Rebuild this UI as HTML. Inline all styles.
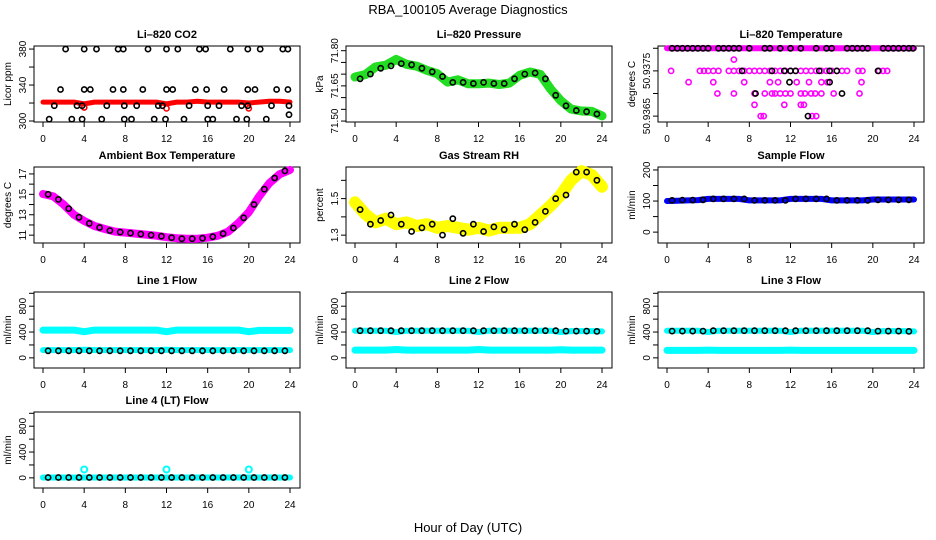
<!DOCTYPE html>
<html><head><meta charset="utf-8"><style>
html,body{margin:0;padding:0;background:#fff;}
svg{display:block;font-family:"Liberation Sans",Arial,sans-serif;}
</style></head><body>
<svg id="chart" width="936" height="540" viewBox="0 0 936 540" xmlns="http://www.w3.org/2000/svg">
<text x="468" y="14" text-anchor="middle" font-size="13">RBA_100105  Average Diagnostics</text>
<text x="468" y="532" text-anchor="middle" font-size="13">Hour of Day (UTC)</text>
</svg>
<script>
// ---- data ----
const hours = [0,1,2,3,4,5,6,7,8,9,10,11,12,13,14,15,16,17,18,19,20,21,22,23,24];
const halfHours = [0.5,1.5,2.5,3.5,4.5,5.5,6.5,7.5,8.5,9.5,10.5,11.5,12.5,13.5,14.5,15.5,16.5,17.5,18.5,19.5,20.5,21.5,22.5,23.5];
const xTicks = [0,4,8,12,16,20,24];

const co2Red = [321,321,321,321,319,321,321,321,321,321,321,321,319,321,321,322,321,321,321,321,320,321,322,322,321];
const co2BlackHours = [2.2,4.0,5.2,7.3,7.8,10.2,12.0,13.1,15.2,15.8,18.2,19.9,21.1,23.3,23.8,
 1.7,4.0,4.6,6.8,7.8,9.7,12.0,12.6,14.8,15.9,17.6,19.9,20.6,22.7,23.8,
 1.1,3.3,3.8,6.2,7.9,9.1,11.2,11.6,14.2,16.0,17.1,19.3,19.9,22.2,23.9,
 0.6,2.8,3.8,5.7,7.9,8.6,10.8,11.9,13.7,16.0,16.5,18.8,19.8,21.7,23.9];
const co2BlackValues = [380,380,380,380,380,380,380,380,380,380,380,380,380,380,380,
 335,335,335,335,335,335,335,335,335,335,335,335,335,335,335,
 317,317,317,317,317,317,317,317,317,317,317,317,317,317,317,
 302,302,302,302,302,302,302,302,302,302,302,302,302,302,307];

const pressGreen = [71.688,71.698,71.731,71.738,71.763,71.742,71.734,71.716,71.702,71.666,71.676,71.659,71.659,71.662,71.656,71.662,71.695,71.709,71.699,71.637,71.587,71.551,71.543,71.541,71.522];
const pressBlack = [71.680,71.700,71.725,71.735,71.745,71.740,71.725,71.710,71.690,71.665,71.665,71.660,71.665,71.660,71.660,71.680,71.700,71.705,71.680,71.610,71.565,71.545,71.540,71.530];

const tempMagentaTop = [50.938,50.938,50.938,50.938,50.938,50.938,50.938,50.938,50.938,50.938,50.938,50.938,50.938,50.938,50.938,50.938,50.938,50.938,50.938,50.938,50.938,50.938,50.938,50.938,50.938];
const tempMagentaHours = [0.4,3.2,3.6,4.0,4.5,5.0,6.0,6.5,7.0,7.5,8.0,8.5,9.0,9.5,10.0,10.5,11.0,11.5,12.0,12.5,13.0,13.5,14.0,14.5,15.0,15.5,16.0,16.5,17.0,17.5,18.6,19.0,20.6,21.0,21.4,
 6.5,
 2.1,4.5,7.5,10.0,10.8,12.6,13.8,15.0,15.6,18.9,
 4.9,6.5,8.5,9.5,10.2,10.5,11.0,11.5,12.0,13.0,13.4,14.0,14.4,15.0,16.2,18.7,
 8.5,11.4,13.0,13.3,
 9.1,9.4,14.1,14.5];
const tempMagentaValues = [50.9375,50.9375,50.9375,50.9375,50.9375,50.9375,50.9375,50.9375,50.9375,50.9375,50.9375,50.9375,50.9375,50.9375,50.9375,50.9375,50.9375,50.9375,50.9375,50.9375,50.9375,50.9375,50.9375,50.9375,50.9375,50.9375,50.9375,50.9375,50.9375,50.9375,50.9375,50.9375,50.9375,50.9375,50.9375,
 50.93775,
 50.93725,50.93725,50.93725,50.93725,50.93725,50.93725,50.93725,50.93725,50.93725,50.93725,
 50.937,50.937,50.937,50.937,50.937,50.937,50.937,50.937,50.937,50.937,50.937,50.937,50.937,50.937,50.937,50.937,
 50.93675,50.93675,50.93675,50.93675,
 50.9365,50.9365,50.9365,50.9365];
const tempBlackHours = [0.5,1.0,1.5,2.0,2.5,3.0,3.5,4.0,5.0,5.5,6.0,6.5,7.0,8.0,9.5,10.0,11.0,12.0,13.0,14.5,15.5,16.0,17.5,18.0,18.5,19.0,19.5,21.0,21.5,22.0,22.5,23.0,23.5,23.9,
 7.3,10.2,11.4,12.0,12.5,14.8,15.8,16.5,20.5, 11.9,15.8, 8.6,17.0, 13.7];
const tempBlackValues = [50.938,50.938,50.938,50.938,50.938,50.938,50.938,50.938,50.938,50.938,50.938,50.938,50.938,50.938,50.938,50.938,50.938,50.938,50.938,50.938,50.938,50.938,50.938,50.938,50.938,50.938,50.938,50.938,50.938,50.938,50.938,50.938,50.938,50.938,
 50.9375,50.9375,50.9375,50.9375,50.9375,50.9375,50.9375,50.9375,50.9375, 50.93725,50.93725, 50.937,50.937, 50.9365];

const ambMagenta = [15.03,14.8,14.0,13.0,12.4,11.9,11.6,11.35,11.25,11.15,11.05,10.95,10.8,10.7,10.65,10.65,10.75,10.95,11.35,12.2,13.25,14.8,16.1,16.97,17.4];
const ambBlack = [15.0,14.5,13.6,12.75,12.15,11.75,11.45,11.3,11.2,11.1,11.0,10.9,10.75,10.65,10.65,10.7,10.85,11.15,11.7,12.7,14.0,15.5,16.6,17.3];

const rhYellow = [1.48,1.416,1.37,1.39,1.36,1.37,1.35,1.36,1.34,1.35,1.34,1.33,1.34,1.325,1.34,1.34,1.34,1.36,1.41,1.46,1.52,1.60,1.65,1.63,1.565];
const rhBlack = [1.44,1.36,1.38,1.41,1.36,1.32,1.34,1.36,1.30,1.39,1.31,1.36,1.32,1.345,1.33,1.36,1.33,1.37,1.43,1.50,1.52,1.645,1.645,1.60];

const sampleBlue = [100,101,102,103,107,107,107,107,102,102,102,102,107,107,107,107,102,102,102,102,105,105,105,105,105];
const sampleBlack = [102,103,103,104,107,107,107,107,102,102,102,102,107,107,107,107,102,102,102,102,104,104,104,104];

const line1CyanHigh = [430,430,430,430,405,430,430,430,430,430,430,430,405,430,430,430,430,430,430,430,405,425,425,425,425];
const line1CyanLow = [120,120,120,120,125,120,120,120,120,120,120,120,125,120,120,120,120,120,120,120,120,120,120,120,120];
const line1Black = [110,110,110,110,110,110,110,110,110,110,110,110,110,110,110,110,110,110,110,110,110,110,110,110];

const line2CyanHigh = [420,420,420,420,400,420,420,420,420,420,420,420,400,420,420,420,420,420,420,420,400,415,415,415,410];
const line2CyanLow = [120,120,120,120,130,120,120,120,120,120,120,120,130,120,120,120,120,120,120,120,125,120,120,120,120];
const line2Black = [420,420,420,420,420,420,420,420,420,420,420,420,420,420,420,420,420,420,420,420,415,415,415,410];

const line3CyanHigh = [420,420,420,420,400,420,420,420,420,420,420,420,400,420,420,420,420,420,420,420,400,415,415,415,410];
const line3CyanLow = [115,115,115,115,120,115,115,115,115,115,115,115,120,115,115,115,115,115,115,115,115,115,115,115,115];
const line3Black = [415,415,415,415,420,420,420,420,420,420,420,420,420,420,420,420,420,420,420,420,415,415,415,410];

const line4Cyan = [5,5,5,5,5,5,5,5,5,5,5,5,5,5,5,5,5,5,5,5,5,5,5,5,5];
const line4SpikeHours = [4,12,20];
const line4SpikeValues = [130,130,130];
const line4Black = [5,5,5,5,5,5,5,5,5,5,5,5,5,5,5,5,5,5,5,5,5,5,5,5];

// ---- rendering ----
const svg = document.getElementById('chart');
const NS = 'http://www.w3.org/2000/svg';
const colLeft = [34,346,658];
const rowTop = [46,167,292,412];
const BW = 266, BH = 76;

function mk(tag, attrs, parent) {
  const e = document.createElementNS(NS, tag);
  for (const k in attrs) e.setAttribute(k, attrs[k]);
  (parent || svg).appendChild(e);
  return e;
}

function makePanel(name, col, row, title, ylab, ylim, yTicks, yLabels) {
  const g = mk('g', {});
  
  
  const L = colLeft[col], T = rowTop[row], B = T + BH;
  const xs = h => L + 9 + h * (247 / 24);
  const ys = v => B - (v - ylim[0]) / (ylim[1] - ylim[0]) * BH;
  const t = mk('text', {x: L + BW / 2, y: T - 8, 'text-anchor': 'middle', 'font-size': 11, 'font-weight': 'bold'}, g);
  t.textContent = title;
  
  
  const box = mk('rect', {x: L, y: T, width: BW, height: BH, fill: 'none', stroke: '#000', 'stroke-width': 1}, g);
  
  
  const xa = mk('g', {}, g);
  
  
  mk('line', {x1: xs(0), x2: xs(24), y1: B, y2: B, stroke: '#000'}, xa);
  xTicks.forEach(h => {
    mk('line', {x1: xs(h), x2: xs(h), y1: B, y2: B + 5, stroke: '#000'}, xa);
    const lt = mk('text', {x: xs(h), y: B + 20, 'text-anchor': 'middle', 'font-size': 10}, xa);
    lt.textContent = h;
  });
  const ya = mk('g', {}, g);
  
  
  mk('line', {x1: L, x2: L, y1: ys(yTicks[0]), y2: ys(yTicks[yTicks.length - 1]), stroke: '#000'}, ya);
  yTicks.forEach((v, i) => {
    mk('line', {x1: L - 5, x2: L, y1: ys(v), y2: ys(v), stroke: '#000'}, ya);
    if (yLabels[i] !== '') {
      const yt = mk('text', {x: L - 8, y: ys(v), 'text-anchor': 'middle', 'font-size': 10, transform: `rotate(-90 ${L - 8} ${ys(v)})`}, ya);
      yt.textContent = yLabels[i];
    }
  });
  const yl = mk('text', {x: L - 23, y: T + BH / 2, 'text-anchor': 'middle', 'font-size': 10, transform: `rotate(-90 ${L - 23} ${T + BH / 2})`}, g);
  yl.textContent = ylab;
  
  
  return {g, xs, ys};
}

function band(p, xsArr, vals, color, width, name) {
  const d = vals.map((v, i) => (i ? 'L' : 'M') + p.xs(xsArr[i]).toFixed(1) + ' ' + p.ys(v).toFixed(1)).join(' ');
  const path = mk('path', {d: d, fill: 'none', stroke: color, 'stroke-width': width, 'stroke-linejoin': 'round', 'stroke-linecap': 'round'}, p.g);
  
  
}
function dots(p, xsArr, vals, color, name, r, sw) {
  const g = mk('g', {}, p.g);
  
  
  vals.forEach((v, i) => {
    mk('circle', {cx: p.xs(xsArr[i]).toFixed(1), cy: p.ys(v).toFixed(1), r: r || 2.6, fill: 'none', stroke: color, 'stroke-width': sw || 1.6}, g);
  });
}

// CO2
let p = makePanel('co2', 0, 0, 'Li\u2013820 CO2', 'Licor ppm', [298.9, 383.4], [300,320,340,360,380], ['300','','340','','380']);
band(p, hours, co2Red, '#ff0000', 5, 'co2-red-series');
dots(p, [4,12,20], [315,314,314], '#ff0000', 'co2-red-dips');
dots(p, co2BlackHours, co2BlackValues, '#000', 'co2-black-points');

// Pressure
p = makePanel('pressure', 1, 0, 'Li\u2013820 Pressure', 'kPa', [71.496, 71.82], [71.50,71.55,71.60,71.65,71.70,71.75,71.80], ['71.50','','','71.65','','','71.80']);
band(p, hours, pressGreen, '#22dd22', 9, 'pressure-green-series');
dots(p, halfHours, pressBlack, '#000', 'pressure-black-points');

// Temperature
p = makePanel('temperature', 2, 0, 'Li\u2013820 Temperature', 'degrees C', [50.93637, 50.93805], [50.9365,50.937,50.9375,50.938], ['50.9365','','50.9375','']);
band(p, hours, tempMagentaTop, '#ff00ff', 6, 'temperature-magenta-top');
dots(p, tempMagentaHours, tempMagentaValues, '#ff00ff', 'temperature-magenta-points');
dots(p, tempBlackHours, tempBlackValues, '#000', 'temperature-black-points');

// Ambient
p = makePanel('ambient', 0, 1, 'Ambient Box Temperature', 'degrees C', [10.23, 17.68], [11,12,13,14,15,16,17], ['11','','13','','15','','17']);
band(p, hours, ambMagenta, '#ff00ff', 8, 'ambient-magenta-series');
dots(p, halfHours, ambBlack, '#000', 'ambient-black-points');

// RH
p = makePanel('rh', 1, 1, 'Gas Stream RH', 'percent', [1.257, 1.673], [1.3,1.4,1.5,1.6], ['1.3','','1.5','']);
band(p, hours, rhYellow, '#ffff00', 12, 'rh-yellow-series');
dots(p, halfHours, rhBlack, '#000', 'rh-black-points');

// Sample flow
p = makePanel('sample-flow', 2, 1, 'Sample Flow', 'ml/min', [-35, 209.5], [0,50,100,150,200], ['0','','100','','200']);
band(p, hours, sampleBlue, '#0000ff', 6, 'sample-flow-blue-series');
dots(p, halfHours, sampleBlack, '#000', 'sample-flow-black-points');

const flowLim = [-157, 1020], flowTicks = [0,200,400,600,800,1000], flowLabels = ['0','','400','','800',''];
// Line 1
p = makePanel('line1-flow', 0, 2, 'Line 1 Flow', 'ml/min', flowLim, flowTicks, flowLabels);
band(p, hours, line1CyanHigh, '#00ffff', 7, 'line1-cyan-high');
band(p, hours, line1CyanLow, '#00ffff', 6, 'line1-cyan-low');
dots(p, halfHours, line1Black, '#000', 'line1-black-points');
// Line 2
p = makePanel('line2-flow', 1, 2, 'Line 2 Flow', 'ml/min', flowLim, flowTicks, flowLabels);
band(p, hours, line2CyanHigh, '#00ffff', 6, 'line2-cyan-high');
band(p, hours, line2CyanLow, '#00ffff', 7, 'line2-cyan-low');
dots(p, halfHours, line2Black, '#000', 'line2-black-points');
// Line 3
p = makePanel('line3-flow', 2, 2, 'Line 3 Flow', 'ml/min', flowLim, flowTicks, flowLabels);
band(p, hours, line3CyanHigh, '#00ffff', 6, 'line3-cyan-high');
band(p, hours, line3CyanLow, '#00ffff', 7, 'line3-cyan-low');
dots(p, halfHours, line3Black, '#000', 'line3-black-points');
// Line 4
p = makePanel('line4-flow', 0, 3, 'Line 4 (LT) Flow', 'ml/min', flowLim, flowTicks, flowLabels);
band(p, hours, line4Cyan, '#00ffff', 6, 'line4-cyan-series');
dots(p, line4SpikeHours, line4SpikeValues, '#00ffff', 'line4-cyan-spikes', 3, 2);
dots(p, halfHours, line4Black, '#000', 'line4-black-points');
</script>
</body></html>
